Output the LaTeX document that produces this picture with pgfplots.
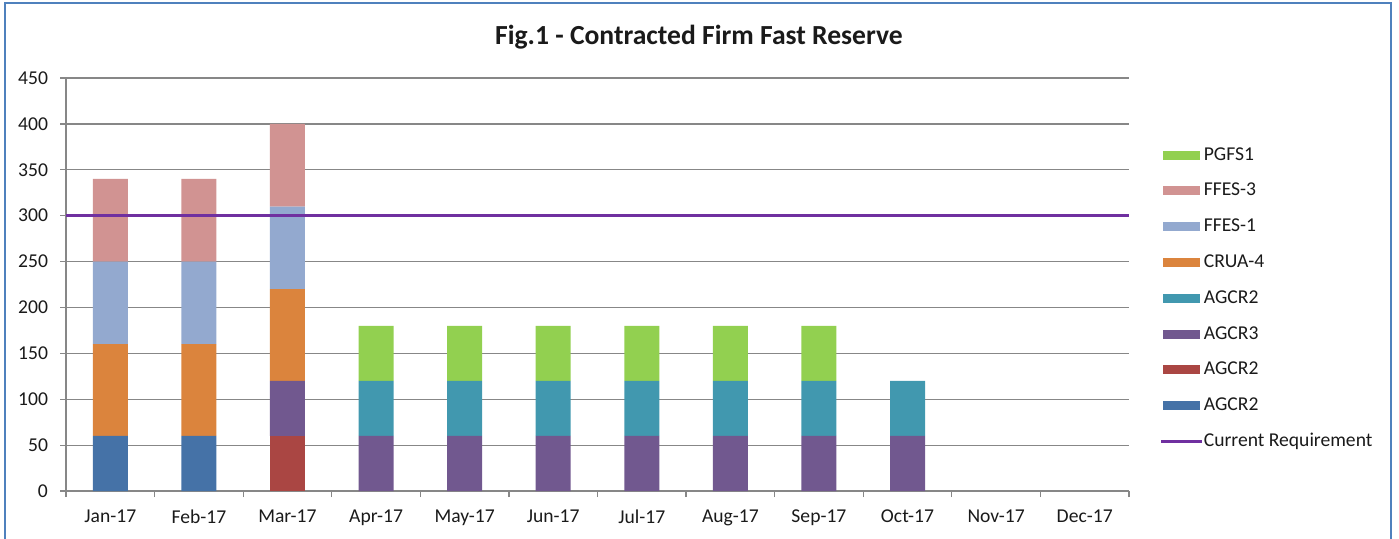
\documentclass[border=0pt]{standalone}
\usepackage{fontspec}
\setmainfont{Carlito}
\usepackage{pgfplots}
\usepackage{pgfplotstable}
\pgfplotsset{compat=1.18}
\definecolor{cBlue}{HTML}{4572A7}
\definecolor{cRed}{HTML}{AA4643}
\definecolor{cPurple}{HTML}{71588F}
\definecolor{cTeal}{HTML}{4198AF}
\definecolor{cOrange}{HTML}{DB843D}
\definecolor{cLBlue}{HTML}{93A9CF}
\definecolor{cPink}{HTML}{D19392}
\definecolor{cGreen}{HTML}{92D050}
\definecolor{reqpurple}{HTML}{7030A0}
\definecolor{gridgray}{HTML}{878787}
\definecolor{axisgray}{HTML}{878787}
\definecolor{frameblue}{HTML}{4F81BD}
\definecolor{labeltext}{HTML}{1A1A1A}

\pgfplotstableread{
x  b   r   p   t   o    lb  pk  g
0  60  0   0   0   100  90  90  0
1  60  0   0   0   100  90  90  0
2  0   60  60  0   100  90  90  0
3  0   0   60  60  0    0   0   60
4  0   0   60  60  0    0   0   60
5  0   0   60  60  0    0   0   60
6  0   0   60  60  0    0   0   60
7  0   0   60  60  0    0   0   60
8  0   0   60  60  0    0   0   60
9  0   0   60  60  0    0   0   0
10 0   0   0   0   0    0   0   0
11 0   0   0   0   0    0   0   0
}\datatable

\pgfplotsset{
  mybar/.style={fill=#1, draw=none,
    legend image code/.code={\fill[#1] (0pt,-2.25pt) rectangle (18.5pt,2.25pt);}},
}

\begin{document}
\begin{tikzpicture}[font=\fontsize{9.8}{11.8}\selectfont]
\useasboundingbox (0,0) rectangle (699.5pt,269pt);
\draw[frameblue, line width=1pt] (2.5pt,-1pt) -- (2.5pt,267.5pt) -- (695.5pt,267.5pt) -- (695.5pt,-1pt);
\node[font=\fontsize{13.8}{16}\selectfont\bfseries, text=labeltext] at (349.5pt,250.5pt) {Fig.1 - Contracted Firm Fast Reserve};
\begin{axis}[
  at={(33pt,23.5pt)}, anchor=south west,
  scale only axis, width=531.5pt, height=206.5pt,
  ybar stacked, bar width=17.5pt,
  xmin=-0.5, xmax=11.5, ymin=0, ymax=450,
  xtick={0,...,11},
  xticklabels={Jan-17,Feb-17,Mar-17,Apr-17,May-17,Jun-17,Jul-17,Aug-17,Sep-17,Oct-17,Nov-17,Dec-17},
  minor xtick={-0.5,0.5,...,11.5},
  ytick={0,50,...,450},
  axis x line*=bottom, axis y line*=left,
  axis line style={-, draw=axisgray, line width=0.6pt},
  ymajorgrids, major grid style={gridgray, line width=0.6pt},
  tick align=outside, major tick length=3pt, minor tick length=3pt,
  major x tick style={draw=none},
  minor x tick style={draw=axisgray, line width=0.6pt},
  ytick style={draw=axisgray, line width=0.6pt},
  /pgf/number format/assume math mode=true,
  yticklabel style={font=\fontsize{9.8}{11.8}\selectfont, text=labeltext, xshift=-2.5pt},
  xticklabel style={font=\fontsize{9.8}{11.8}\selectfont, text=labeltext, yshift=-3pt},
  reverse legend,
  legend cell align=left,
  legend style={at={(1.029,0.835)}, anchor=north west, draw=none, fill=none,
    inner sep=0pt, outer sep=0pt, row sep=8.9pt, column sep=0pt,
    font=\fontsize{9.8}{11.8}\selectfont, text=labeltext,
    nodes={inner sep=0pt, text height=7pt, text depth=2pt}},
]
\addlegendimage{legend image code/.code={\draw[reqpurple, line width=1.5pt] (-1pt,0pt) -- (19.5pt,0pt);}}
\addlegendentry{Current Requirement}
\addplot[mybar=cBlue] table[x=x, y=b] {\datatable};
\addlegendentry{AGCR2}
\addplot[mybar=cRed] table[x=x, y=r] {\datatable};
\addlegendentry{AGCR2}
\addplot[mybar=cPurple] table[x=x, y=p] {\datatable};
\addlegendentry{AGCR3}
\addplot[mybar=cTeal] table[x=x, y=t] {\datatable};
\addlegendentry{AGCR2}
\addplot[mybar=cOrange] table[x=x, y=o] {\datatable};
\addlegendentry{CRUA-4}
\addplot[mybar=cLBlue] table[x=x, y=lb] {\datatable};
\addlegendentry{FFES-1}
\addplot[mybar=cPink] table[x=x, y=pk] {\datatable};
\addlegendentry{FFES-3}
\addplot[mybar=cGreen] table[x=x, y=g] {\datatable};
\addlegendentry{PGFS1}
\end{axis}
\begin{axis}[
  at={(33pt,23.5pt)}, anchor=south west,
  scale only axis, width=531.5pt, height=206.5pt,
  xmin=-0.5, xmax=11.5, ymin=0, ymax=450, hide axis,
]
\addplot[reqpurple, line width=1.5pt] coordinates {(-0.5,300) (11.5,300)};
\end{axis}
\end{tikzpicture}
\end{document}
